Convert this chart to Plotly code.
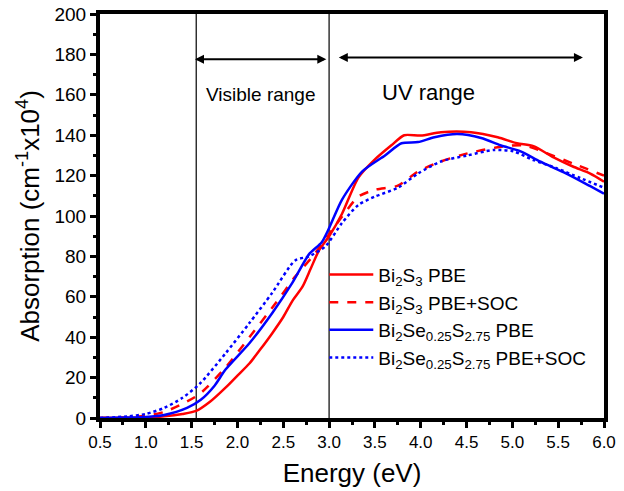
import plotly.graph_objects as go

# ---- data ----
e_s3_pbe = [0.5, 0.8, 1.0, 1.2, 1.4, 1.55, 1.7, 1.87, 2.0, 2.13, 2.25, 2.38, 2.5, 2.6, 2.71, 2.8, 2.89, 3.0,
            3.14, 3.32, 3.5, 3.68, 3.82, 4.0, 4.22, 4.55, 4.84, 5.05, 5.23, 5.45, 5.66, 5.85, 6.0]
a_s3_pbe = [0, 0.1, 0.2, 0.8, 2, 3.5, 8, 15, 21, 27, 34, 42, 50, 58, 65, 74, 83, 90,
            101, 119, 128, 135, 140, 139.8, 141.5, 141.5, 139, 136, 134.6, 129, 124.5, 121, 117]

e_s3_soc = [0.5, 0.8, 1.0, 1.2, 1.4, 1.59, 1.87, 2.13, 2.42, 2.63, 2.82, 3.0, 3.14, 3.32, 3.5, 3.75,
            3.97, 4.22, 4.51, 4.84, 5.12, 5.38, 5.66, 6.0]
a_s3_soc = [0, 0.4, 1, 3, 7, 12, 25, 40, 57, 70, 80, 91, 99.6, 109.6, 113, 115,
            122, 127, 131, 134, 135, 131, 126, 120]

e_se_pbe = [0.5, 0.8, 1.0, 1.2, 1.45, 1.6, 1.75, 1.87, 2.13, 2.38, 2.6, 2.78, 2.92, 3.0, 3.14, 3.36,
            3.61, 3.79, 3.97, 4.15, 4.4, 4.66, 4.87, 5.09, 5.3, 5.59, 5.84, 6.0]
a_se_pbe = [0, 0.2, 0.5, 1.5, 5, 9, 16, 24, 37, 52, 67, 81, 87, 94, 108, 122,
            130, 136, 136.6, 139, 140.6, 138.6, 135, 132, 127, 121, 115, 111]

e_se_soc = [0.5, 0.8, 1.0, 1.2, 1.4, 1.59, 1.87, 2.13, 2.38, 2.63, 2.78, 2.96, 3.14, 3.32, 3.5, 3.75,
            3.97, 4.22, 4.51, 4.8, 5.01, 5.23, 5.48, 5.74, 6.0]
a_se_soc = [0, 0.8, 2, 5, 10, 17, 32, 47, 62, 78, 80, 85, 96.5, 105.5, 109.6, 114,
            121, 127, 130, 132.7, 132, 127.7, 123.7, 118.8, 114]

series_names = ["Bi<sub>2</sub>S<sub>3</sub> PBE",
                "Bi<sub>2</sub>S<sub>3</sub> PBE+SOC",
                "Bi<sub>2</sub>Se<sub>0.25</sub>S<sub>2.75</sub> PBE",
                "Bi<sub>2</sub>Se<sub>0.25</sub>S<sub>2.75</sub> PBE+SOC"]

vlines = [1.55, 3.0]
vis_arrow = (1.52, 2.97, 177.6)
uv_arrow = (3.09, 5.77, 178.5)
range_labels = [("Visible range", 2.26, 160, 19), ("UV range", 4.09, 161, 22)]

FONT = "Liberation Sans, Arial, sans-serif"

fig = go.Figure()
styles = [("red", "solid"), ("red", "dash"), ("blue", "solid"), ("blue", "dot")]
data = [(e_s3_pbe, a_s3_pbe), (e_s3_soc, a_s3_soc), (e_se_pbe, a_se_pbe), (e_se_soc, a_se_soc)]
for (x, y), name, (c, d) in zip(data, series_names, styles):
    fig.add_trace(go.Scatter(x=x, y=y, name=name, mode="lines",
                             line=dict(color=c, dash=d, width=2.5, shape="spline", smoothing=0.7)))

for v in vlines:
    fig.add_shape(type="line", x0=v, x1=v, y0=0, y1=1, xref="x", yref="paper",
                  line=dict(color="black", width=1.2), layer="below")

for (x0, x1, yy) in [vis_arrow, uv_arrow]:
    fig.add_annotation(x=x1, y=yy, ax=x0, ay=yy, xref="x", yref="y", axref="x", ayref="y",
                       text="", showarrow=True, arrowhead=2, startarrowhead=2, arrowside="end+start",
                       arrowwidth=2, arrowsize=0.9, startarrowsize=0.9, arrowcolor="black")

for (t, x, y, s) in range_labels:
    fig.add_annotation(x=x, y=y, xref="x", yref="y", text=t, showarrow=False,
                       font=dict(family=FONT, size=s, color="black"))

fig.update_layout(
    width=624, height=491,
    margin=dict(l=100, r=20, t=14, b=73),
    plot_bgcolor="white", paper_bgcolor="white",
    font=dict(family=FONT, color="black"),
    legend=dict(x=0.445, y=0.402, xanchor="left", yanchor="top", bgcolor="rgba(0,0,0,0)",
                font=dict(family=FONT, size=19, color="black"), tracegroupgap=0, itemwidth=44),
    showlegend=True,
)
fig.update_xaxes(range=[0.5, 6.0], dtick=0.5, tick0=0.5, tickformat=".1f", automargin=False,
                 showline=True, linewidth=4, linecolor="black", mirror=True,
                 ticks="outside", ticklen=6, tickwidth=3, tickcolor="black",
                 minor=dict(dtick=0.25, ticks="outside", ticklen=3, tickwidth=3, tickcolor="black"),
                 showgrid=False, zeroline=False,
                 tickfont=dict(family=FONT, size=17, color="black"),
                 title=dict(text="Energy (eV)", font=dict(family=FONT, size=26, color="black"), standoff=13))
fig.update_yaxes(range=[0, 200], dtick=20, automargin=False,
                 showline=True, linewidth=4, linecolor="black", mirror=True,
                 ticks="outside", ticklen=6, tickwidth=3, tickcolor="black",
                 minor=dict(dtick=10, ticks="outside", ticklen=3, tickwidth=3, tickcolor="black"),
                 showgrid=False, zeroline=False,
                 tickfont=dict(family=FONT, size=19, color="black"),
                 title=dict(text="Absorption (cm<sup>-1</sup>x10<sup>4</sup>)",
                            font=dict(family=FONT, size=26, color="black"), standoff=8))

fig.write_html("out.html")
